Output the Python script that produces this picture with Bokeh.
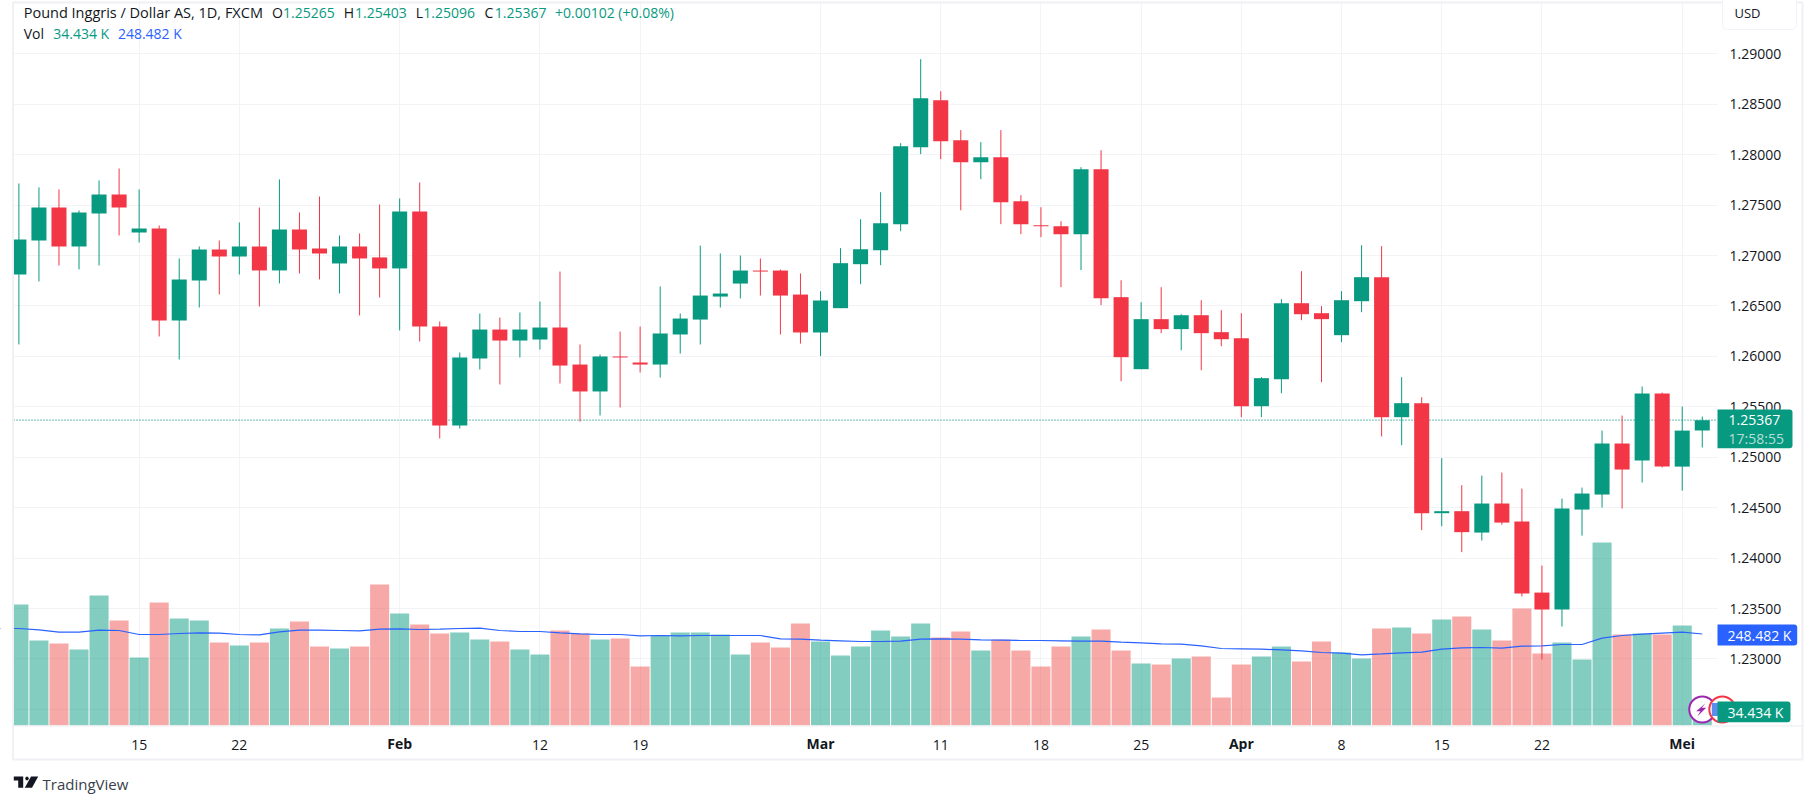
from bokeh.plotting import figure
from bokeh.embed import file_html
from bokeh.resources import INLINE
from bokeh.core.properties import value
from bokeh.models import (Range1d, LinearAxis, FixedTicker, NumeralTickFormatter, Grid, ColumnDataSource)

FONT = "Open Sans"
GREEN = "#089981"
RED = "#F23645"
BLUE = "#2962FF"
TEXT = "#131722"

opens = [1.26812,1.27149,1.27476,1.27090,1.27417,1.27605,1.27229,1.27268,1.26356,1.26753,
         1.27060,1.26991,1.27090,1.26852,1.27258,1.27070,1.26921,1.27090,1.26981,1.26872,
         1.27437,1.26296,1.25314,1.25979,1.26266,1.26157,1.26167,1.26286,1.25919,1.25652,
         1.25999,1.25939,1.25919,1.26217,1.26365,1.26593,1.26722,1.26851,1.26851,1.26613,
         1.26237,1.26478,1.26914,1.27053,1.27311,1.28074,1.28540,1.28144,1.27925,1.27975,
         1.27539,1.27301,1.27291,1.27212,1.27856,1.26587,1.25873,1.26369,1.26270,1.26408,
         1.26240,1.26180,1.25506,1.25774,1.26527,1.26428,1.26210,1.26547,1.26785,1.25397,
         1.25536,1.24445,1.24465,1.24253,1.24541,1.24362,1.23658,1.23490,1.24481,1.24630,
         1.25136,1.24967,1.25631,1.24907,1.25265]
highs = [1.27714,1.27675,1.27655,1.27447,1.27744,1.27863,1.27655,1.27298,1.26971,1.27090,
         1.27149,1.27328,1.27476,1.27754,1.27427,1.27585,1.27199,1.27219,1.27506,1.27566,
         1.27724,1.26346,1.26038,1.26425,1.26385,1.26435,1.26544,1.26841,1.26118,1.26018,
         1.26246,1.26296,1.26693,1.26425,1.27099,1.27020,1.27000,1.26970,1.26861,1.26822,
         1.26646,1.27073,1.27360,1.27628,1.28114,1.28947,1.28629,1.28243,1.28124,1.28243,
         1.27598,1.27479,1.27340,1.27876,1.28044,1.26755,1.26537,1.26686,1.26418,1.26557,
         1.26458,1.26428,1.25794,1.26567,1.26845,1.26498,1.26646,1.27102,1.27093,1.25794,
         1.25595,1.24991,1.24723,1.24818,1.24848,1.24689,1.23926,1.24590,1.24699,1.25264,
         1.25413,1.25701,1.25641,1.25502,1.25403]
lows = [1.26118,1.26743,1.26901,1.26862,1.26901,1.27199,1.27129,1.26197,1.25969,1.26485,
        1.26614,1.26812,1.26495,1.26723,1.26822,1.26763,1.26624,1.26406,1.26584,1.26257,
        1.26148,1.25186,1.25285,1.25870,1.25721,1.25989,1.26068,1.25731,1.25354,1.25414,
        1.25493,1.25840,1.25790,1.26028,1.26118,1.26484,1.26574,1.26603,1.26217,1.26127,
        1.26002,1.26478,1.26716,1.26904,1.27241,1.28005,1.27955,1.27449,1.27757,1.27311,
        1.27212,1.27182,1.26686,1.26855,1.26508,1.25754,1.25873,1.26230,1.26061,1.25863,
        1.26101,1.25397,1.25397,1.25635,1.26359,1.25744,1.26141,1.26438,1.25206,1.25120,
        1.24277,1.24316,1.24059,1.24174,1.24332,1.23619,1.22994,1.23321,1.24223,1.24501,
        1.24491,1.24749,1.24898,1.24669,1.25096]
closes = [1.27159,1.27476,1.27090,1.27427,1.27605,1.27476,1.27268,1.26356,1.26763,1.27060,
          1.26991,1.27090,1.26852,1.27258,1.27060,1.27020,1.27090,1.26971,1.26872,1.27437,
          1.26297,1.25314,1.25989,1.26266,1.26157,1.26266,1.26286,1.25909,1.25652,1.25999,
          1.25989,1.25919,1.26227,1.26375,1.26603,1.26623,1.26851,1.26841,1.26603,1.26237,
          1.26554,1.26924,1.27063,1.27321,1.28084,1.28560,1.28134,1.27925,1.27975,1.27529,
          1.27311,1.27291,1.27212,1.27856,1.26577,1.25992,1.26369,1.26270,1.26408,1.26230,
          1.26170,1.25506,1.25784,1.26527,1.26418,1.26369,1.26557,1.26785,1.25397,1.25536,
          1.24445,1.24465,1.24257,1.24541,1.24352,1.23648,1.23490,1.24491,1.24640,1.25136,
          1.24878,1.25631,1.24907,1.25264,1.25367]
volume = [328.6,230.9,222.7,206.4,353.1,285.2,184.7,334.1,290.6,285.2,
          225.4,217.3,225.4,263.4,282.5,214.6,209.1,214.6,382.9,304.2,
          274.3,249.9,252.6,233.6,228.1,206.4,192.8,258.0,249.9,233.6,
          236.3,160.2,244.4,252.6,252.6,247.1,192.8,225.4,211.8,277.0,
          228.1,190.1,214.6,258.0,241.7,277.0,239.0,255.3,203.7,233.6,
          203.7,160.2,214.6,241.7,260.7,203.7,168.4,165.7,182.0,187.4,
          76.0,165.7,187.4,214.6,173.8,228.1,198.3,182.0,263.4,266.2,
          249.9,287.9,296.0,260.7,230.9,317.8,195.5,225.4,179.2,497.0,
          247.1,249.9,247.1,271.6,34.434]
vol_ma = [263.4,259.8,253.5,253.5,258.9,258.0,247.1,247.1,249.9,251.7,
          250.8,247.1,246.2,254.4,258.9,258.9,258.0,257.1,261.6,262.5,
          260.7,261.6,263.4,264.3,258.0,255.3,255.3,251.7,249.0,247.1,
          247.1,243.5,244.4,243.5,244.4,244.4,244.4,244.4,235.4,234.5,
          231.8,229.9,228.1,228.1,229.0,234.5,235.4,234.5,232.7,231.8,
          230.9,230.9,229.9,229.0,229.0,226.3,224.5,221.8,220.9,216.4,
          209.1,208.2,207.3,205.5,202.8,198.3,196.5,191.9,194.6,197.4,
          199.2,207.3,210.9,211.8,210.0,215.5,216.4,220.0,220.0,237.2,
          244.4,248.1,250.8,253.5,248.482]
vol_ma_before_first = 263.4
time_ticks = [6, 11, 26, 31, 46, 51, 56, 66, 71, 76]
time_labels = ["15", "22", "12", "19", "11", "18", "25", "8", "15", "22"]
month_ticks = [19, 40, 61, 83]
month_labels = ["Feb", "Mar", "Apr", "Mei"]
price_ticks = [1.23, 1.235, 1.24, 1.245, 1.25, 1.255, 1.26, 1.265, 1.27, 1.275, 1.28, 1.285, 1.29]
grid_prices = [1.225] + price_ticks

W, H = 1806, 794

def X(px):
    return (px - 18.4) / 20.04

def Y(py):
    return 1.29 - (py - 53.3) * 9.915e-5

idx = list(range(len(opens)))
up = [c >= o for o, c in zip(opens, closes)]
src = ColumnDataSource(dict(
    x=idx, o=opens, h=highs, l=lows, c=closes, v=volume, ma=vol_ma,
    col=[GREEN if u else RED for u in up],
    vcol=[GREEN if u else "#EF5350" for u in up],
))

p = figure(width=W, height=H, output_backend="svg", toolbar_location=None,
           x_axis_location=None, y_axis_location=None,
           x_range=Range1d(X(0), X(W)), y_range=Range1d(Y(H), Y(0)),
           min_border=0, min_border_left=0, min_border_right=0, min_border_top=0, min_border_bottom=0)
p.margin = (0, 0, 0, 0)
p.outline_line_color = None
p.background_fill_color = "white"
p.extra_y_ranges = {"vol": Range1d((725 - H) * 2.716, 725 * 2.716)}

# drop the figure's default grids, keep only the chart's own tick positions
p.center = []
GRID = "#F2F3F6"
p.add_layout(Grid(dimension=0, ticker=FixedTicker(ticks=time_ticks + month_ticks), grid_line_color=GRID, grid_line_width=1))
p.add_layout(Grid(dimension=1, ticker=FixedTicker(ticks=grid_prices), grid_line_color=GRID, grid_line_width=1))

p.vbar(x="x", top="v", bottom=0, width=0.95, source=src, y_range_name="vol",
       fill_color="vcol", fill_alpha=0.5, line_color=None)
p.line([-1] + idx, [vol_ma_before_first] + vol_ma, y_range_name="vol", line_color=BLUE, line_width=1.2)
p.segment([X(13)], [closes[-1]], [X(1717)], [closes[-1]], line_color=GREEN, line_dash="1 2", line_width=1.2)
p.segment(x0="x", x1="x", y0="l", y1="h", source=src, line_color="col", line_width=1)
p.vbar(x="x", top="o", bottom="c", width=0.75, source=src, fill_color="col", line_color=None)

def box(l, r, t, b, fill=None, line=None, radius=0, lw=1, level="glyph"):
    p.quad(left=[X(l)], right=[X(r)], top=[Y(t)], bottom=[Y(b)], fill_color=fill, fill_alpha=1 if fill else 0,
           line_color=line, line_alpha=1 if line else 0, line_width=lw, border_radius=radius, level=level)

# panes outside the plotting area hide grid and bars there
box(0, 13, 0, H, fill="white")
box(1717, W, 0, H, fill="white")
box(0, W, 725, H, fill="white")
box(0, W, 0, 2, fill="white")

ya = LinearAxis(fixed_location=X(1717), ticker=FixedTicker(ticks=price_ticks),
                formatter=NumeralTickFormatter(format="0.00000"))
ya.axis_line_color = None
ya.major_tick_line_color = None
ya.minor_tick_line_color = None
ya.major_label_text_font = FONT
ya.major_label_text_font_size = "14px"
ya.major_label_text_color = TEXT
ya.major_label_standoff = 6
p.add_layout(ya, "right")

xa = LinearAxis(fixed_location=Y(725), ticker=FixedTicker(ticks=time_ticks))
xa.major_label_overrides = dict(zip(time_ticks, time_labels))
xa.axis_line_color = None
xa.major_tick_line_color = None
xa.minor_tick_line_color = None
xa.major_label_text_font = FONT
xa.major_label_text_font_size = "14px"
xa.major_label_text_color = TEXT
xa.major_label_standoff = 8
p.add_layout(xa, "below")

# small indicator icons at the last bar
p.scatter([84], [43.5], size=26, y_range_name="vol", marker="circle", fill_color="white",
          line_color="#9C27B0", line_width=2, level="overlay")
p.patch([X(v) for v in [1705, 1695.7, 1700, 1696.7, 1705.7, 1701.3]],
        [Y(v) for v in [702.7, 710.7, 710.7, 716, 707.3, 707.3]],
        fill_color="#9C27B0", line_color=None, level="overlay")
p.scatter([85.0], [43.5], size=26, y_range_name="vol", marker="circle", fill_color="white",
          line_color=RED, line_width=2, level="overlay")
p.scatter([84.8], [43.5], size=13, y_range_name="vol", marker="square", fill_color="#5B8DEF", line_color=None,
          level="overlay")

def txt(x, y, s, color=TEXT, size="14px", bold=False, align="left", alpha=1.0):
    p.text([x], [Y(y)], text=[s], text_color=color, text_font=value(FONT), text_font_size=size,
           text_align=align, text_baseline="middle", text_alpha=alpha,
           text_font_style="bold" if bold else "normal", level="overlay")

# outer frame, scale divider
box(12.5, 1802, 2, 759, line="#F0F0F5", lw=2, level="overlay")
box(13, 1802, 725, 726, fill="#ECECF2", level="overlay")
box(1722, 1796, -6, 29, fill="white", line="#F0F3FA", radius=5, level="overlay")
txt(X(1734), 12.5, "USD", size="13px")

# header
txt(X(23.2), 12, "Pound Inggris / Dollar AS, 1D, FXCM", size="14.5px")
for x, lab in [(271.4, "O"), (343.3, "H"), (415.2, "L"), (484, "C")]:
    txt(X(x), 12, lab)
for x, val in [(282.6, opens[-1]), (354.5, highs[-1]), (422.8, lows[-1]), (494.2, closes[-1])]:
    txt(X(x), 12, f"{val:.5f}", color=GREEN)
txt(X(554.5), 12, "+0.00102 (+0.08%)", color=GREEN)
txt(X(23.2), 33, "Vol")
txt(X(52.7), 33, f"{volume[-1]:.3f} K", color=GREEN)
txt(X(117.4), 33, f"{vol_ma[-1]:.3f} K", color=BLUE)

# last value tags
box(1717, 1792, 409, 447.7, fill=GREEN, radius=(0, 3, 3, 0), level="overlay")
txt(X(1728), 419.3, f"{closes[-1]:.5f}", color="white")
txt(X(1728), 437.5, "17:58:55", color="white", alpha=0.7)
box(1717, 1796.7, 624, 645, fill=BLUE, radius=(0, 3, 3, 0), level="overlay")
txt(X(1727), 634.7, f"{vol_ma[-1]:.3f} K", color="white")
box(1717, 1790, 701, 721.7, fill=GREEN, radius=(0, 3, 3, 0), level="overlay")
txt(X(1727), 711.5, f"{volume[-1]:.3f} K", color="white")

# month labels (bold)
for t, lab in zip(month_ticks, month_labels):
    txt(t, 743, lab, bold=True, align="center")

# brand mark
for xs, ys in [([13.3, 22.7, 22.7, 17.7, 17.7, 13.3], [776, 776, 787.3, 787.3, 780, 780]),
               ([24.6, 25.5, 27.5, 28.4, 27.5, 25.5], [778, 776.2, 776.2, 778, 779.8, 779.8]),
               ([30.5, 37.7, 31.5, 24.3], [776, 776, 787.3, 787.3])]:
    p.patch([X(v) for v in xs], [Y(v) for v in ys], fill_color=TEXT, line_color=None, level="overlay")
txt(X(42), 783, "TradingView", color="#3a3e4a", size="15px")

open("out.html", "w").write(file_html(p, INLINE))
